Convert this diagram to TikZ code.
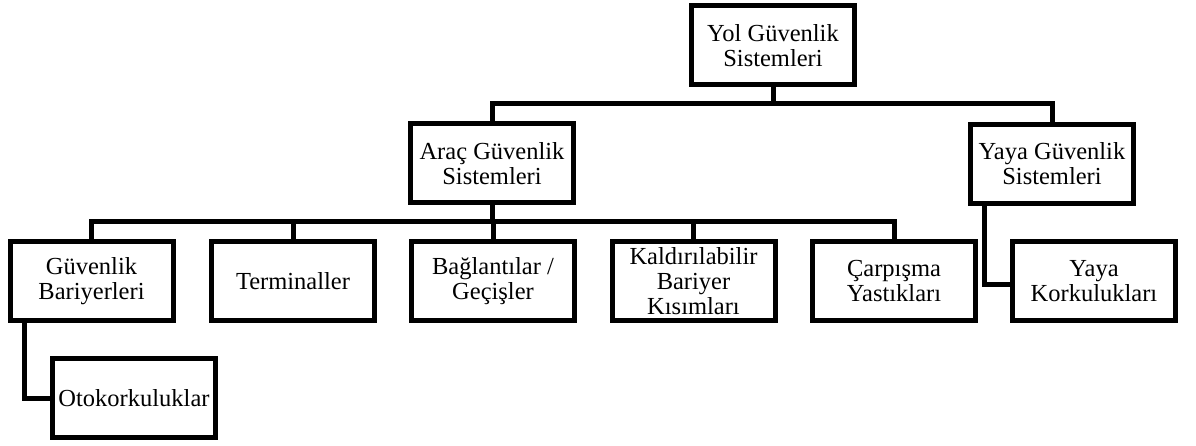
\documentclass[tikz,border=0pt]{standalone}
\usepackage{fontspec}
\setmainfont{Liberation Serif}
\tikzset{
  kutu/.style={draw,line width=5pt,minimum width=163pt,minimum height=79pt,
    inner sep=2pt,align=center,font=\fontsize{24.5}{25}\selectfont},
  hat/.style={line width=5pt}
}
\begin{document}
\begin{tikzpicture}[x=1pt,y=-1pt]
  \useasboundingbox (0,0) rectangle (1196,446);
  \node[kutu] (yol) at (773,45.5) {Yol Güvenlik\\Sistemleri};
  \node[kutu] (arac) at (492,163.5) {Araç Güvenlik\\Sistemleri};
  \node[kutu] (yaya) at (1052,164) {Yaya Güvenlik\\Sistemleri};
  \node[kutu] (gb) at (91.5,281) {Güvenlik\\Bariyerleri};
  \node[kutu] (term) at (293,281) {Terminaller};
  \node[kutu] (bag) at (493,281) {Bağlantılar /\\Geçişler};
  \node[kutu] (kal) at (693.5,281) {Kaldırılabilir\\Bariyer\\Kısımları};
  \node[kutu] (carp) at (894,281) {Çarpışma\\Yastıkları};
  \node[kutu] (yk) at (1094,281) {Yaya\\Korkulukları};
  \node[kutu] (oto) at (134,398) {Otokorkuluklar};
  \coordinate (t1) at (773,104);
  \coordinate (t2) at (492,222);
  \draw[hat] (yol.south) -- (t1);
  \draw[hat] (arac.north) |- (t1) -| (yaya.north);
  \draw[hat] (arac.south) -- (t2);
  \draw[hat] (gb.north) |- (t2) -| (carp.north);
  \draw[hat] (term.north) -- (term.north |- t2);
  \draw[hat] (bag.north) -- (bag.north |- t2);
  \draw[hat] (kal.north) -- (kal.north |- t2);
  \draw[hat] ([xshift=17pt]gb.south west) |- (oto.west);
  \draw[hat] ([xshift=16pt]yaya.south west) |- ([yshift=-3pt]yk.west);
\end{tikzpicture}
\end{document}
